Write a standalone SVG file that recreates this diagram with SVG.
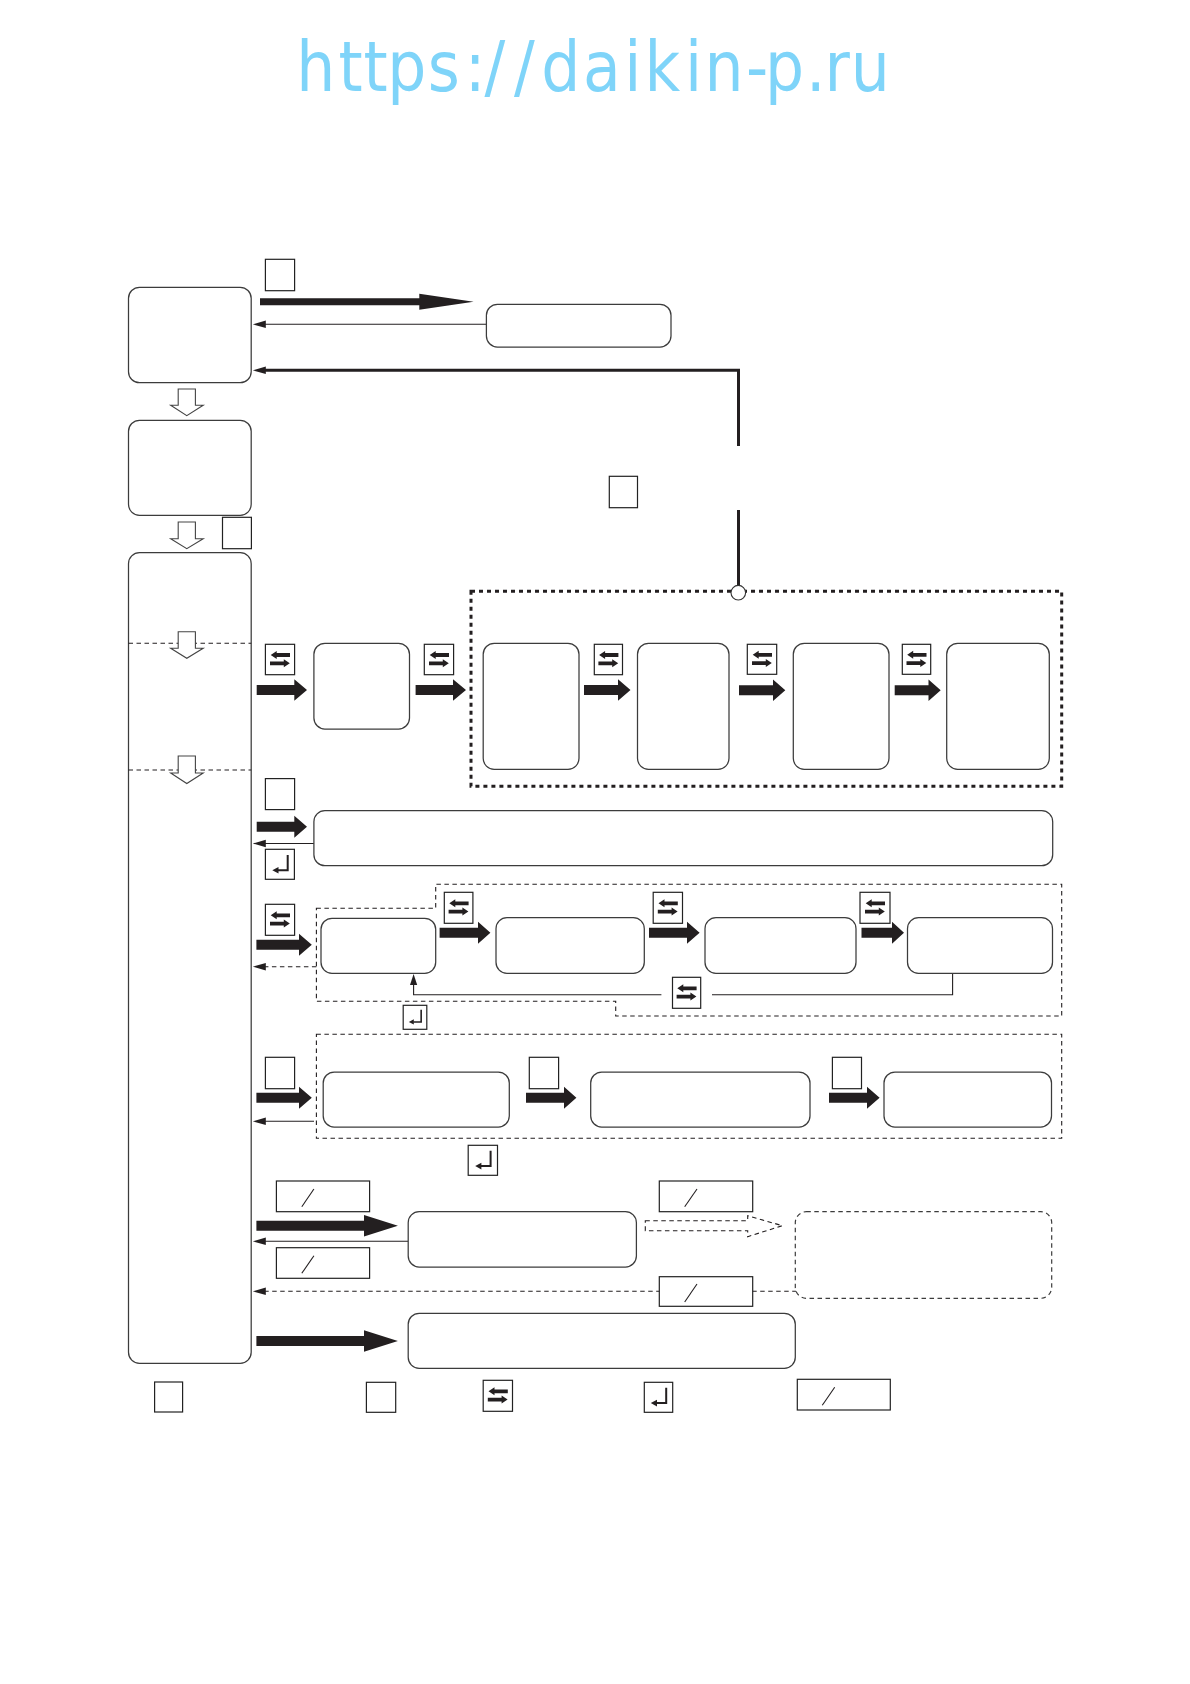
<svg xmlns="http://www.w3.org/2000/svg" xmlns:xlink="http://www.w3.org/1999/xlink" width="1190" height="1684" viewBox="0 0 1190 1684">
<style>
.box{fill:#fff;stroke:#3c3c3c;stroke-width:1.25}
.dbox{fill:#fff;stroke:#3c3c3c;stroke-width:1.2;stroke-dasharray:4.5 3.5}
.sq{fill:#fff;stroke:#222;stroke-width:1.2}
.blk{fill:#231f20;stroke:none}
.hollow{fill:#fff;stroke:#444;stroke-width:1.1}
.thin{fill:none;stroke:#231f20;stroke-width:1.1}
.dash{fill:none;stroke:#231f20;stroke-width:1.1;stroke-dasharray:4.5 3.5}
.frame{fill:none;stroke:#231f20;stroke-width:3;stroke-dasharray:4 4}
.sep{fill:none;stroke:#231f20;stroke-width:1.1;stroke-dasharray:4.5 3.5}
.url{font-family:"DejaVu Sans",sans-serif;font-size:70px;fill:#7fd4f9}
</style>
<defs>
<g id="swap"><polygon class="blk" points="-9.3,-4.5 -3.3,-8.5 -3.3,-6.4 10,-6.4 10,-2.6 -3.3,-2.6 -3.3,-0.5"/><polygon class="blk" points="9.8,3.8 3.8,-0.2 3.8,1.9 -10,1.9 -10,5.7 3.8,5.7 3.8,7.8"/></g>
<g id="enter"><polyline fill="none" stroke="#231f20" stroke-width="2" points="7.7,-9.5 7.7,5.8 -2,5.8"/><polygon class="blk" points="-7.7,5.8 -1.5,2.5 -1.5,9.1"/></g>
<polygon id="head" class="blk" points="0,0 13,-3.7 13,3.7"/>
</defs>
<text class="url" transform="translate(0 91) scale(.88 1)" x="336.6 384.8 413.1 440.2 486 528.1 550.5 584 615 662.5 709.4 732.3 778.4 800.5 847.7 869.3 915.9 936.8 966.8" y="0">https://daikin-p.ru</text>

<g id="containers">
<rect id="frame-thick" class="frame" x="471" y="591.3" width="590.7" height="195"/>
<path id="frame-row3" class="dash" d="M316.4 908.3H435.7V884.3H1061.7V1016H615.7V1001.3H316.4Z"/>
<rect id="frame-row4" class="dash" x="316.4" y="1034.3" width="745.3" height="104"/>
</g>

<g id="connectors">
<polygon class="blk" points="260,298.2 419.3,298.2 419.3,293.7 473.6,301.7 419.3,309.7 419.3,305.2 260,305.2"/>
<line class="thin" x1="486.4" y1="324.3" x2="262" y2="324.3"/><use href="#head" x="252.8" y="324.3"/>
<polyline fill="none" stroke="#231f20" stroke-width="3" points="738.5,446 738.5,370.3 262,370.3"/><use href="#head" x="252.8" y="370.3"/>
<line x1="738.5" y1="510" x2="738.5" y2="586" stroke="#231f20" stroke-width="3"/>
<polygon class="hollow" points="178.2,389 195.4,389 195.4,405.3 203.2,405.3 186.8,415.7 170.7,405.3 178.2,405.3"/>
<polygon class="hollow" points="178.2,522 195.4,522 195.4,538.7 203.2,538.7 186.8,548.7 170.7,538.7 178.2,538.7"/>
<polygon class="blk" points="256.7,685 294.3,685 294.3,679.3 307,690 294.3,700.7 294.3,695 256.7,695"/>
<polygon class="blk" points="415.6,685 453,685 453,679.3 466,690 453,700.7 453,695 415.6,695"/>
<polygon class="blk" points="584,685 618,685 618,679.3 630.5,690 618,700.7 618,695 584,695"/>
<polygon class="blk" points="739,685.3 773,685.3 773,679.6 785.3,690.3 773,701 773,695.3 739,695.3"/>
<polygon class="blk" points="894.7,685.3 928.5,685.3 928.5,679.6 940.7,690.3 928.5,701 928.5,695.3 894.7,695.3"/>
<polygon class="blk" points="256.7,821.7 294.3,821.7 294.3,815.7 307,826.7 294.3,837.7 294.3,831.7 256.7,831.7"/>
<line class="thin" x1="314" y1="843.5" x2="262" y2="843.5"/><use href="#head" x="252.8" y="843.5"/>
<polygon class="blk" points="256.4,939.7 299,939.7 299,933.7 311.8,944.7 299,955.7 299,949.7 256.4,949.7"/>
<line class="dash" x1="316.4" y1="966.7" x2="262" y2="966.7"/><use href="#head" x="252.8" y="966.7"/>
<polygon class="blk" points="439.6,927.7 478,927.7 478,921.7 490.4,932.7 478,943.7 478,937.7 439.6,937.7"/>
<polygon class="blk" points="649,927.7 687,927.7 687,921.7 699.6,932.7 687,943.7 687,937.7 649,937.7"/>
<polygon class="blk" points="861.5,927.7 892,927.7 892,921.7 904,932.7 892,943.7 892,937.7 861.5,937.7"/>
<polyline class="thin" points="952.6,973.3 952.6,994.7 712,994.7"/>
<polyline class="thin" points="661.4,994.7 413.6,994.7 413.6,984"/>
<polygon class="blk" points="413.6,974 410,985 417.2,985"/>
<polygon class="blk" points="256.4,1092.7 299,1092.7 299,1086.7 311.8,1097.7 299,1108.7 299,1102.7 256.4,1102.7"/>
<polygon class="blk" points="526,1092.7 564,1092.7 564,1086.7 576.4,1097.7 564,1108.7 564,1102.7 526,1102.7"/>
<polygon class="blk" points="829,1092.7 867,1092.7 867,1086.7 879.6,1097.7 867,1108.7 867,1102.7 829,1102.7"/>
<line class="thin" x1="314" y1="1121.3" x2="262" y2="1121.3"/><use href="#head" x="252.8" y="1121.3"/>
<polygon class="blk" points="256.4,1220.7 364,1220.7 364,1215 397.9,1225.7 364,1236.4 364,1230.7 256.4,1230.7"/>
<line class="thin" x1="408.2" y1="1241.3" x2="262" y2="1241.3"/><use href="#head" x="252.8" y="1241.3"/>
<polygon class="dash" points="645.3,1220.7 747.7,1220.7 747.7,1215.7 782.3,1225.7 747.7,1236.7 747.7,1230.7 645.3,1230.7"/>
<line class="dash" x1="796.7" y1="1291.3" x2="262" y2="1291.3"/><use href="#head" x="252.8" y="1291.3"/>
<polygon class="blk" points="256.4,1336 364,1336 364,1330.3 397.9,1341 364,1351.7 364,1346 256.4,1346"/>
</g>

<g id="node-1"><rect class="box" x="128.5" y="287.3" width="122.7" height="95.4" rx="11"/></g>
<g id="node-2"><rect class="box" x="128.5" y="420.3" width="122.7" height="95" rx="11"/></g>
<g id="node-3"><rect class="box" x="128.5" y="552.7" width="122.7" height="810.6" rx="11"/>
<line class="sep" x1="128.5" y1="643.3" x2="251.2" y2="643.3"/><line class="sep" x1="128.5" y1="770" x2="251.2" y2="770"/>
<polygon class="hollow" points="178.2,631.7 195.4,631.7 195.4,648.3 203.2,648.3 186.8,658.3 170.7,648.3 178.2,648.3"/>
<polygon class="hollow" points="178.2,756 195.4,756 195.4,773 203.2,773 186.8,783.5 170.7,773 178.2,773"/></g>
<g id="node-4"><rect class="box" x="486.4" y="304.3" width="184.6" height="42.7" rx="11"/></g>
<g id="node-5"><rect class="box" x="313.9" y="643.3" width="95.6" height="85.7" rx="11"/></g>
<g id="node-6"><rect class="box" x="483.2" y="643.3" width="95.8" height="126" rx="11"/></g>
<g id="node-7"><rect class="box" x="637.5" y="643.3" width="91.5" height="126" rx="11"/></g>
<g id="node-8"><rect class="box" x="793.3" y="643.3" width="95.7" height="126" rx="11"/></g>
<g id="node-9"><rect class="box" x="946.7" y="643.3" width="102.6" height="126" rx="11"/></g>
<g id="node-10"><rect class="box" x="313.9" y="810.7" width="738.8" height="55" rx="11"/></g>
<g id="node-11"><rect class="box" x="321" y="918.3" width="114.7" height="55" rx="11"/></g>
<g id="node-12"><rect class="box" x="496" y="917.7" width="148.3" height="55.6" rx="11"/></g>
<g id="node-13"><rect class="box" x="705" y="917.7" width="151" height="55.6" rx="11"/></g>
<g id="node-14"><rect class="box" x="907.5" y="917.7" width="145" height="55.6" rx="11"/></g>
<g id="node-15"><rect class="box" x="323.2" y="1072" width="186.1" height="55" rx="11"/></g>
<g id="node-16"><rect class="box" x="590.7" y="1072" width="219.3" height="55" rx="11"/></g>
<g id="node-17"><rect class="box" x="884" y="1072" width="167.5" height="55" rx="11"/></g>
<g id="node-18"><rect class="box" x="408.2" y="1211.7" width="228.2" height="55.3" rx="11"/></g>
<g id="node-19"><rect class="dbox" x="795.3" y="1211.7" width="256.4" height="86.6" rx="11"/></g>
<g id="node-20"><rect class="box" x="408.2" y="1313.3" width="387.1" height="55" rx="11"/></g>
<g id="junction"><circle cx="738.3" cy="592.7" r="7.3" fill="#fff" stroke="#333" stroke-width="1.1"/></g>

<g id="keys">
<rect class="sq" x="265.4" y="259.3" width="29.2" height="31.4"/>
<rect class="sq" x="222.5" y="517.3" width="28.9" height="31.4"/>
<rect class="sq" x="609.3" y="476.3" width="28.2" height="31.4"/>
<rect class="sq" x="265.4" y="778.6" width="29.2" height="31"/>
<rect class="sq" x="265.4" y="1057.3" width="29.2" height="31.4"/>
<rect class="sq" x="529.3" y="1057.3" width="29.3" height="31.4"/>
<rect class="sq" x="832.4" y="1057.3" width="29.1" height="31.4"/>
<rect class="sq" x="154.6" y="1382" width="28" height="30"/>
<rect class="sq" x="366.4" y="1382.3" width="29.3" height="30"/>

<rect class="sq" x="265.4" y="644.3" width="29.2" height="30.4"/><use href="#swap" x="280" y="659.5"/>
<rect class="sq" x="424.3" y="644.3" width="29.3" height="30.4"/><use href="#swap" x="439" y="659.5"/>
<rect class="sq" x="594.3" y="644.3" width="28.2" height="30.4"/><use href="#swap" x="608.4" y="659.5"/>
<rect class="sq" x="747.3" y="644.3" width="29.4" height="30"/><use href="#swap" x="762" y="659.3"/>
<rect class="sq" x="902.3" y="644.3" width="28.4" height="30"/><use href="#swap" x="916.5" y="659.3"/>
<rect class="sq" x="265.4" y="904.3" width="29.2" height="31"/><use href="#swap" x="280" y="919.8"/>
<rect class="sq" x="444.3" y="892.3" width="28.6" height="31"/><use href="#swap" x="458.6" y="907.8"/>
<rect class="sq" x="653.2" y="892.3" width="29.3" height="31"/><use href="#swap" x="667.8" y="907.8"/>
<rect class="sq" x="860" y="892.3" width="30" height="31"/><use href="#swap" x="875" y="907.8"/>
<rect class="sq" x="672.5" y="977.3" width="28.2" height="31"/><use href="#swap" x="686.6" y="992.8"/>
<rect class="sq" x="483.2" y="1380.3" width="29.3" height="31"/><use href="#swap" x="497.8" y="1395.8"/>

<rect class="sq" x="265.4" y="849.3" width="29" height="30"/><use href="#enter" x="280" y="864.5"/>
<rect class="sq" x="403.2" y="1005.3" width="23.6" height="24"/><use href="#enter" transform="translate(415 1017.3) scale(.8)"/>
<rect class="sq" x="468.2" y="1145.3" width="29.3" height="30"/><use href="#enter" x="482.9" y="1160.3"/>
<rect class="sq" x="644.3" y="1382.3" width="28.4" height="30"/><use href="#enter" x="658.5" y="1397.3"/>

<rect class="sq" x="276.4" y="1181" width="93.2" height="30.7"/><line class="thin" x1="313.9" y1="1189" x2="301.8" y2="1206.7"/>
<rect class="sq" x="276.4" y="1247.7" width="93.2" height="30.6"/><line class="thin" x1="313.9" y1="1255.7" x2="301.8" y2="1273.3"/>
<rect class="sq" x="659.3" y="1181" width="93.4" height="30.7"/><line class="thin" x1="697" y1="1189" x2="684.7" y2="1206.7"/>
<rect class="sq" x="659.3" y="1276.7" width="93.4" height="29.6"/><line class="thin" x1="697" y1="1284" x2="684.7" y2="1302"/>
<rect class="sq" x="797.3" y="1379.3" width="93" height="30.7"/><line class="thin" x1="834.7" y1="1387.3" x2="822.3" y2="1405.3"/>
</g>
</svg>
